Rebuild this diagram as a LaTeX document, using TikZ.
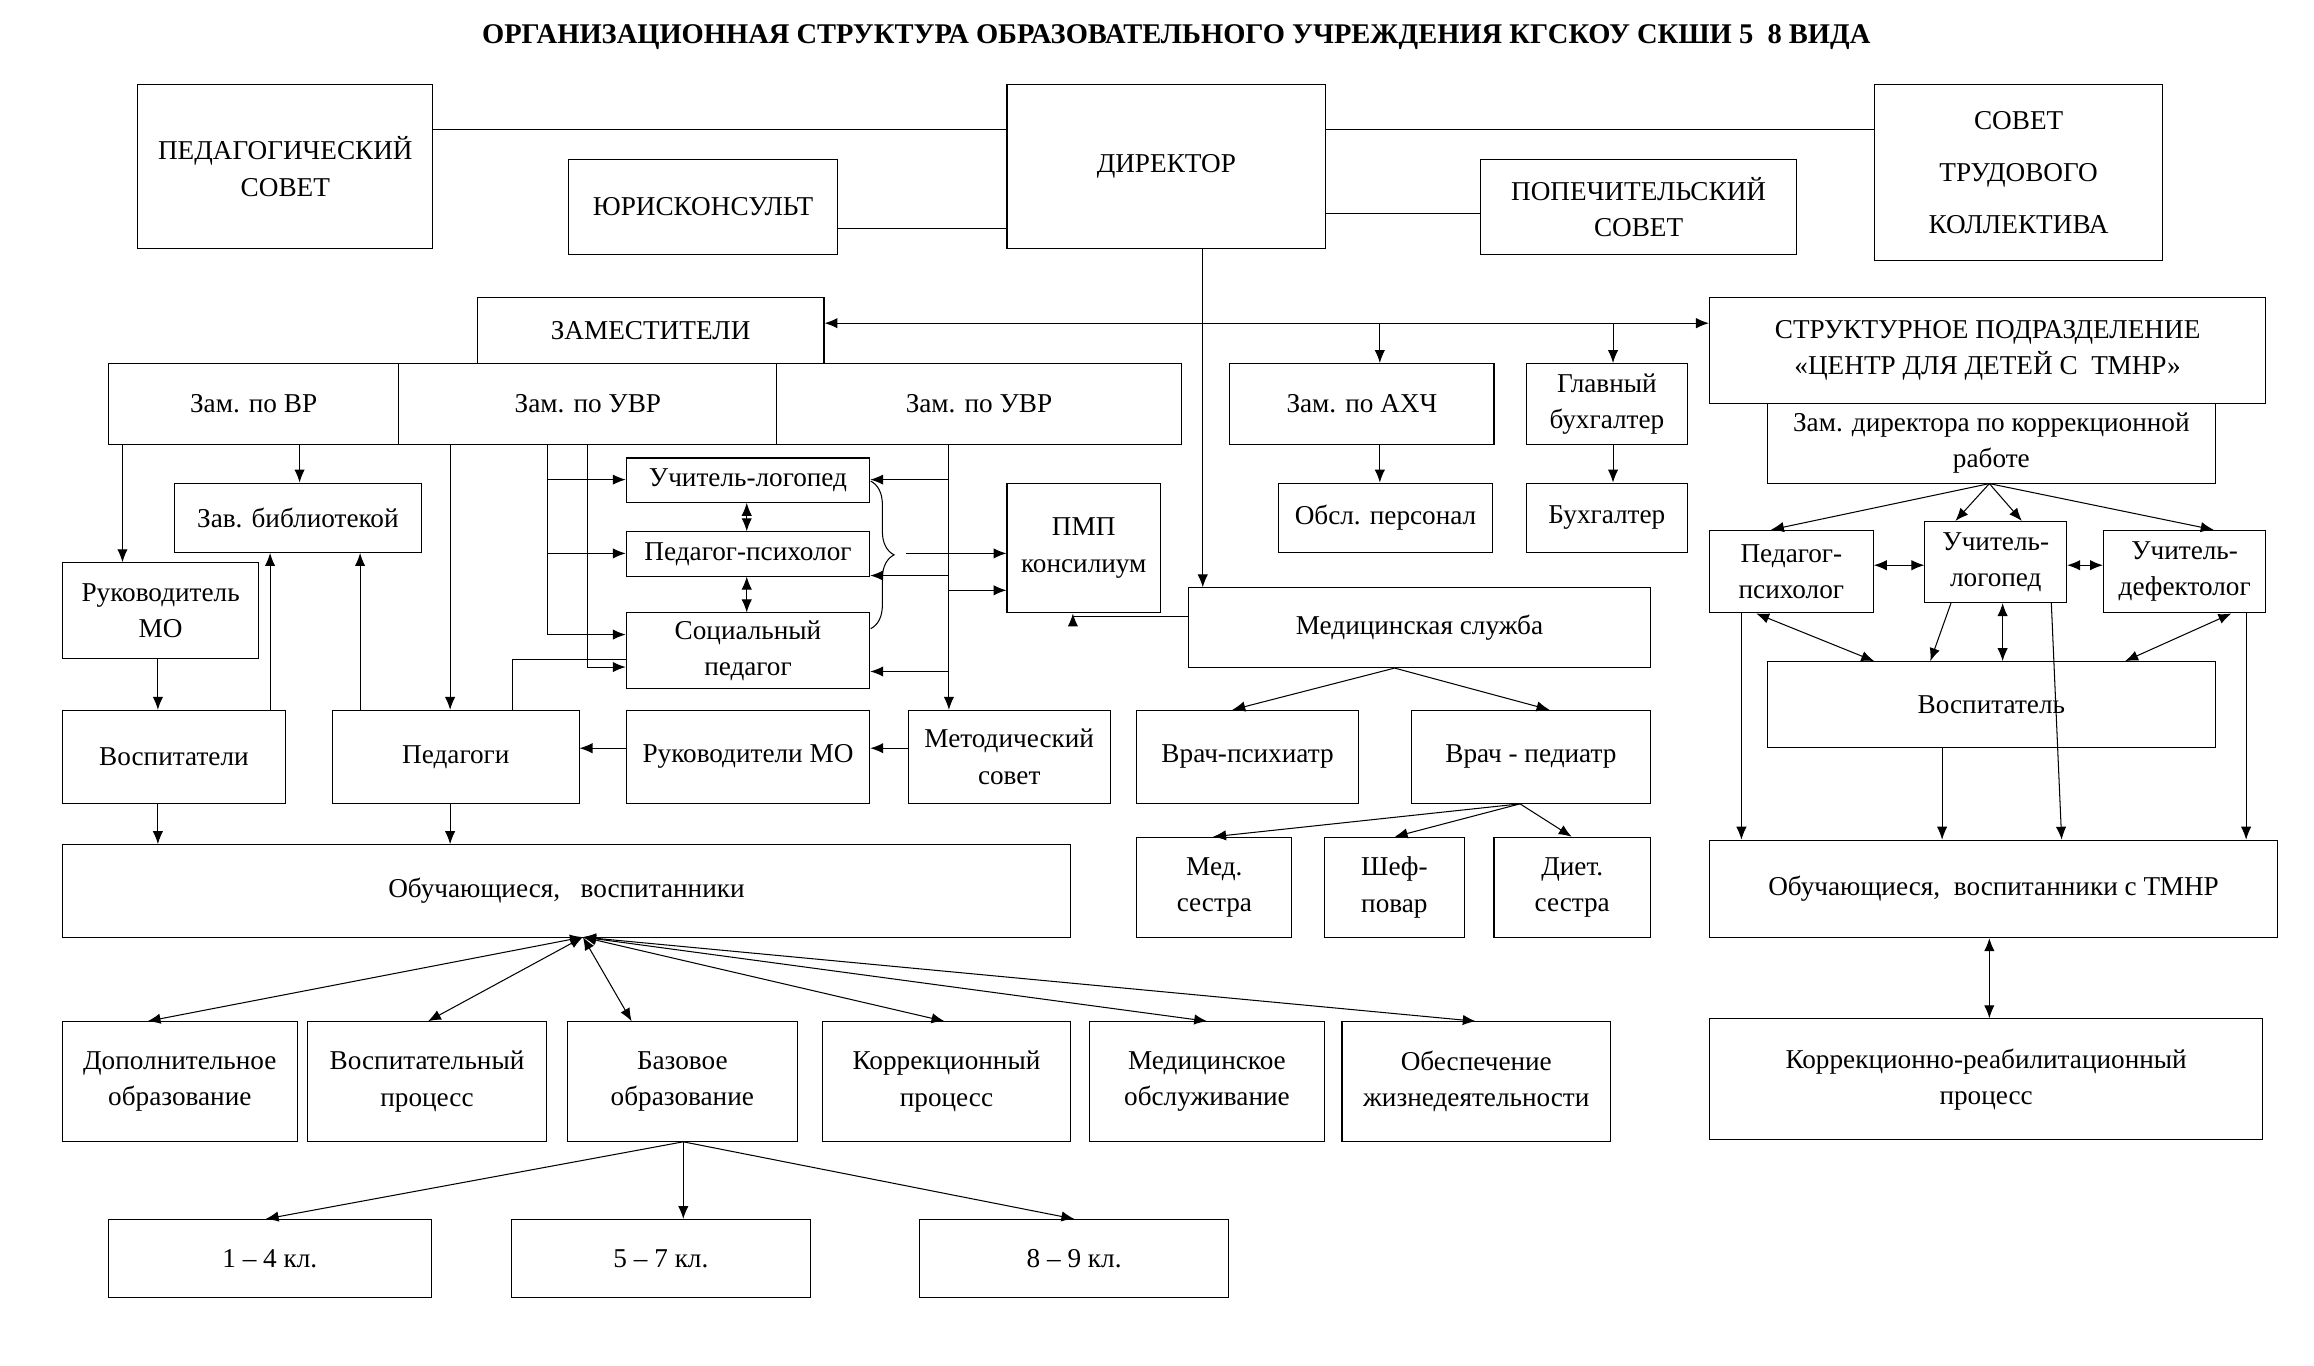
\documentclass[tikz,border=0pt]{standalone}
\usepackage{fontspec}
\setmainfont{Liberation Serif}
\usetikzlibrary{arrows.meta,positioning,calc,decorations.pathreplacing}

\newcommand{\bx}[6]{\node[box, minimum width={(#4-#2)*0.02cm}, minimum height={(#5-#3)*0.02cm}, anchor=north west] (#1) at (#2,#3) {#6};}

\begin{document}
\begin{tikzpicture}[x=0.02cm, y=-0.02cm,
            box/.style={draw, rectangle, align=center, inner sep=1pt, font=\fontsize{10.5}{14}\selectfont},
            ar/.style={-{Latex[length=5pt,width=4pt]}},
            dar/.style={{Latex[length=5pt,width=4pt]}-{Latex[length=5pt,width=4pt]}}
            ]
            \useasboundingbox (0,0) rectangle (1568,925);

            % Title
            \node[font=\bfseries\fontsize{11}{13}\selectfont] (title) at (797,25) {ОРГАНИЗАЦИОННАЯ СТРУКТУРА ОБРАЗОВАТЕЛЬНОГО УЧРЕЖДЕНИЯ КГСКОУ СКШИ 5\ \ 8 ВИДА};

            % Top row
            \bx{ped}{93}{57}{293}{168}{ПЕДАГОГИЧЕСКИЙ\\СОВЕТ}
            \bx{yur}{385}{108}{567}{172}{ЮРИСКОНСУЛЬТ}
            \bx{dir}{682}{57}{898}{168}{ДИРЕКТОР}
            \bx{pop}{1003}{108}{1217}{172}{ПОПЕЧИТЕЛЬСКИЙ\\СОВЕТ}
            \bx{stk}{1270}{57}{1465}{176}{СОВЕТ\\[6pt]ТРУДОВОГО\\[6pt]КОЛЛЕКТИВА}

            % Deputies
            \bx{zam}{323}{201}{558}{246}{ЗАМЕСТИТЕЛИ}
            \bx{zvr}{73}{246}{270}{301}{Зам. по ВР}
            \bx{zuvra}{270}{246}{526}{301}{Зам. по УВР}
            \bx{zuvrb}{526}{246}{800}{301}{Зам. по УВР}
            \bx{zahch}{833}{246}{1012}{301}{Зам. по АХЧ}
            \bx{gb}{1034}{246}{1143}{301}{Главный\\бухгалтер}
            \bx{sp}{1158}{201}{1535}{273}{СТРУКТУРНОЕ ПОДРАЗДЕЛЕНИЕ\\«ЦЕНТР ДЛЯ ДЕТЕЙ С\ \ ТМНР»}
            \bx{zdk}{1197}{273}{1501}{327}{Зам. директора по коррекционной\\работе}

            % Middle
            \bx{zb}{118}{327}{285}{374}{Зав. библиотекой}
            \bx{rmo}{42}{381}{175}{446}{Руководитель\\МО}
            \bx{ul}{424}{310}{589}{340}{Учитель-логопед}
            \bx{pp}{424}{360}{589}{390}{Педагог-психолог}
            \bx{sotp}{424}{415}{589}{466}{Социальный\\педагог}
            \bx{pmp}{682}{327}{786}{415}{ПМП\\консилиум}
            \bx{obsl}{866}{327}{1011}{374}{Обсл. персонал}
            \bx{buh}{1034}{327}{1143}{374}{Бухгалтер}
            \bx{med}{805}{398}{1118}{452}{Медицинская служба}
            \bx{vosp}{42}{481}{193}{544}{Воспитатели}
            \bx{pedg}{225}{481}{392}{544}{Педагоги}
            \bx{rmob}{424}{481}{589}{544}{Руководители МО}
            \bx{ms}{615}{481}{752}{544}{Методический\\совет}
            \bx{vp}{770}{481}{920}{544}{Врач-психиатр}
            \bx{vped}{956}{481}{1118}{544}{Врач - педиатр}
            \bx{obuch}{42}{572}{725}{635}{Обучающиеся,\ \ \ воспитанники}
            \bx{msa}{770}{567}{875}{635}{Мед.\\сестра}
            \bx{shef}{897}{567}{992}{635}{Шеф-\\повар}
            \bx{diet}{1012}{567}{1118}{635}{Диет.\\сестра}

            % Right branch
            \bx{pgp}{1158}{359}{1269}{415}{Педагог-\\психолог}
            \bx{ulg}{1304}{353}{1400}{408}{Учитель-\\логопед}
            \bx{ud}{1425}{359}{1535}{415}{Учитель-\\дефектолог}
            \bx{vsp}{1197}{448}{1501}{506}{Воспитатель}
            \bx{obt}{1158}{569}{1543}{635}{Обучающиеся,\ \ воспитанники с ТМНР}
            \bx{kor}{1158}{690}{1533}{772}{Коррекционно-реабилитационный\\процесс}

            % Bottom rows
            \bx{dop}{42}{692}{201}{773}{Дополнительное\\образование}
            \bx{vpr}{208}{692}{370}{773}{Воспитательный\\процесс}
            \bx{bo}{384}{692}{540}{773}{Базовое\\образование}
            \bx{kp}{557}{692}{725}{773}{Коррекционный\\процесс}
            \bx{mo}{738}{692}{897}{773}{Медицинское\\обслуживание}
            \bx{ozh}{909}{692}{1091}{773}{Обеспечение\\жизнедеятельности}
            \bx{ka}{73}{826}{292}{879}{1 – 4 кл.}
            \bx{kb}{346}{826}{549}{879}{5 – 7 кл.}
            \bx{kc}{623}{826}{832}{879}{8 – 9 кл.}

            % Director links
            \draw (ped.east |- 0,88) -- (dir.west |- 0,88);
            \draw (yur.east |- 0,155) -- (dir.west |- 0,155);
            \draw (pop.west |- 0,145) -- (dir.east |- 0,145);
            \draw (stk.west |- 0,88) -- (dir.east |- 0,88);
            \draw[ar] (815,168) -- (med.north -| 815,0);
            \draw[dar] (zam.east |- 0,219) -- (sp.west |- 0,219);
            \draw[ar] (935,219) -- (zahch.north -| 935,0);
            \draw[ar] (1093,219) -- (gb.north -| 1093,0);
            \draw[ar] (zahch.south -| 935,0) -- (obsl.north -| 935,0);
            \draw[ar] (gb.south -| 1093,0) -- (buh.north -| 1093,0);

            % Left branch
            \draw[ar] (zvr.south -| 83,0) -- (rmo.north -| 83,0);
            \draw[ar] (zvr.south -| 203,0) -- (zb.north -| 203,0);
            \draw[ar] (rmo.south -| 107,0) -- (vosp.north -| 107,0);
            \draw[ar] (vosp.south -| 107,0) -- (obuch.north -| 107,0);
            \draw[ar] (vosp.north -| 183,0) -- (zb.south -| 183,0);
            \draw[ar] (pedg.north -| 244,0) -- (zb.south -| 244,0);
            \draw[ar] (zuvra.south -| 305,0) -- (pedg.north -| 305,0);
            \draw[ar] (pedg.south -| 305,0) -- (obuch.north -| 305,0);
            \draw (zuvra.south -| 371,0) -- (371,430);
            \draw[ar] (371,325) -- (ul.west |- 0,325);
            \draw[ar] (371,375) -- (pp.west |- 0,375);
            \draw[ar] (371,430) -- (sotp.west |- 0,430);
            \draw[ar] (zuvra.south -| 398,0) -- (398,452) -- (sotp.west |- 0,452);
            \draw[dar] (ul.south -| 506,0) -- (pp.north -| 506,0);
            \draw[dar] (pp.south -| 506,0) -- (sotp.north -| 506,0);
            \draw (sotp.west |- 0,447) -- (347,447) -- (pedg.north -| 347,0);

            \draw[ar] (zuvrb.south -| 643,0) -- (ms.north -| 643,0);
            \draw[ar] (643,325) -- (ul.east |- 0,325);
            \draw[ar] (643,390) -- (pp.east |- 0,390);
            \draw[ar] (643,455) -- (sotp.east |- 0,455);
            \draw[ar] (643,400) -- (pmp.west |- 0,400);
            \draw[decorate, decoration={brace, amplitude=9pt}] (590,326) -- (590,426);
            \draw[ar] (614,375) -- (pmp.west |- 0,375);
            \draw[ar] (ms.west |- 0,507) -- (rmob.east |- 0,507);
            \draw[ar] (rmob.west |- 0,507) -- (pedg.east |- 0,507);
            \draw[ar] (med.west |- 0,418) -- (727,418) -- (pmp.south -| 727,0);

            % Medical service
            \draw[ar] (med.south -| 945,0) -- (vp.north -| 835,0);
            \draw[ar] (med.south -| 945,0) -- (vped.north -| 1050,0);
            \draw[ar] (vped.south -| 1030,0) -- (msa.north -| 822,0);
            \draw[ar] (vped.south -| 1030,0) -- (shef.north -| 945,0);
            \draw[ar] (vped.south -| 1030,0) -- (diet.north -| 1065,0);

            % Students
            \coordinate (hub) at (395,635);
            \foreach \t/\x in {dop/100, vpr/290, bo/428, kp/640, mo/818, ozh/1000}
              \draw[dar] (hub) -- (\t.north -| \x,0);
            \draw[ar] (bo.south -| 463,0) -- (ka.north -| 180,0);
            \draw[ar] (bo.south -| 463,0) -- (kb.north -| 463,0);
            \draw[ar] (bo.south -| 463,0) -- (kc.north -| 728,0);

            % Right branch links
            \draw[ar] (zdk.south -| 1348,0) -- (pgp.north -| 1200,0);
            \draw[ar] (zdk.south -| 1348,0) -- (ulg.north -| 1325,0);
            \draw[ar] (zdk.south -| 1348,0) -- (ulg.north -| 1370,0);
            \draw[ar] (zdk.south -| 1348,0) -- (ud.north -| 1500,0);
            \draw[dar] (pgp.east |- 0,383) -- (ulg.west |- 0,383);
            \draw[dar] (ulg.east |- 0,383) -- (ud.west |- 0,383);
            \draw[dar] (pgp.south -| 1190,0) -- (vsp.north -| 1270,0);
            \draw[dar] (ud.south -| 1512,0) -- (vsp.north -| 1440,0);
            \draw[dar] (ulg.south -| 1357,0) -- (vsp.north -| 1357,0);
            \draw[ar] (ulg.south -| 1322,0) -- (vsp.north -| 1308,0);
            \draw[ar] (pgp.south -| 1180,0) -- (obt.north -| 1180,0);
            \draw[ar] (ud.south -| 1522,0) -- (obt.north -| 1522,0);
            \draw[ar] (ulg.south -| 1390,0) -- (obt.north -| 1397,0);
            \draw[ar] (vsp.south -| 1316,0) -- (obt.north -| 1316,0);
            \draw[dar] (obt.south -| 1348,0) -- (kor.north -| 1348,0);
        \end{tikzpicture}
\end{document}
